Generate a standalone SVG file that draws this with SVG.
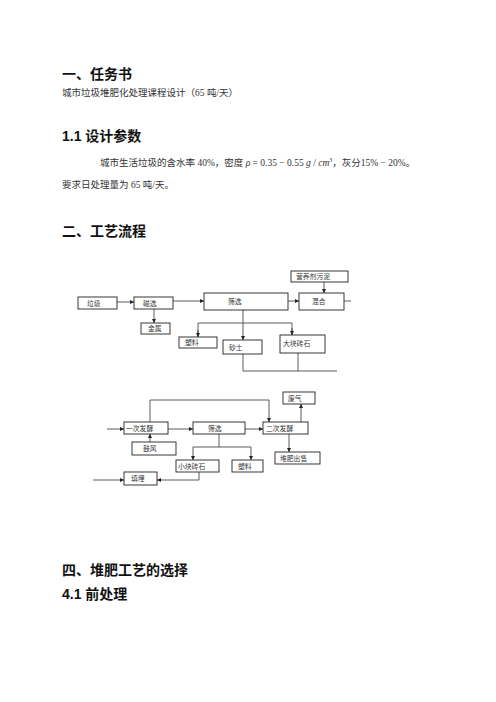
<svg xmlns="http://www.w3.org/2000/svg" width="496" height="702" viewBox="0 0 496 702">
<style>
.h{font-family:"Liberation Sans","Noto Sans CJK SC",sans-serif;font-weight:bold;font-size:14px;fill:#111}
.b{font-family:"Liberation Serif","Noto Sans CJK SC",serif;font-size:9.5px;fill:#333}
.box{fill:#fff;stroke:#222;stroke-width:0.9}
.t{font-family:"Noto Sans CJK SC",sans-serif;font-size:6.8px;fill:#333}
.c{fill:none;stroke:#333;stroke-width:0.8}
.g{fill:none;stroke:#999;stroke-width:1.6}
</style>
<defs>
<marker id="a" viewBox="0 0 6 6" refX="6" refY="3" markerWidth="4" markerHeight="4" orient="auto" markerUnits="userSpaceOnUse"><path d="M0,0L6,3L0,6z" fill="#222"/></marker>
</defs>
<rect width="496" height="702" fill="#fff"/>
<text class="h" x="62" y="79">一、任务书</text>
<text class="b" x="62" y="96">城市垃圾堆肥化处理课程设计（65 吨/天）</text>
<text class="h" x="62" y="141">1.1 设计参数</text>
<text class="b" x="100" y="166">城市生活垃圾的含水率 40%，密度 <tspan font-style="italic">ρ</tspan> = 0.35 − 0.55 <tspan font-style="italic">g</tspan> / <tspan font-style="italic">cm</tspan><tspan font-size="6" dy="-4">3</tspan><tspan dy="4">，灰分15% − 20%。</tspan></text>
<text class="b" x="62" y="188">要求日处理量为 65 吨/天。</text>
<text class="h" x="62" y="236">二、工艺流程</text>
<text class="h" x="62" y="575">四、堆肥工艺的选择</text>
<text class="h" x="62" y="599">4.1 前处理</text>

<g id="connectors">
<line class="c" x1="324" y1="282" x2="324" y2="293" marker-end="url(#a)"/>
<line class="g" x1="117" y1="302" x2="134" y2="302" marker-end="url(#a)"/>
<line class="c" x1="154" y1="309" x2="154" y2="323" marker-end="url(#a)"/>
<line class="g" x1="173" y1="301" x2="204" y2="301" marker-end="url(#a)"/>
<line class="g" x1="288" y1="301" x2="299" y2="301" marker-end="url(#a)"/>
<line class="g" x1="344" y1="301" x2="351" y2="301"/>
<line class="c" x1="243" y1="310" x2="243" y2="340" marker-end="url(#a)"/>
<path class="c" d="M198,337V323H292V335" />
<line class="c" x1="198" y1="330" x2="198" y2="337" marker-end="url(#a)"/>
<line class="c" x1="292" y1="328" x2="292" y2="335" marker-end="url(#a)"/>
<path class="c" d="M243,354V371M298,353V371M243,371H337"/>

<path class="c" d="M150,422V400H269V422" marker-end="url(#a)"/>
<line class="c" x1="301" y1="422" x2="301" y2="404" marker-end="url(#a)"/>
<line class="g" x1="107" y1="429" x2="124" y2="429" marker-end="url(#a)"/>
<line class="g" x1="168" y1="429" x2="193" y2="429" marker-end="url(#a)"/>
<line class="g" x1="245" y1="429" x2="263" y2="429" marker-end="url(#a)"/>
<line class="c" x1="150" y1="442" x2="150" y2="434" marker-end="url(#a)"/>
<path class="c" d="M219,434V447M193,447H251"/>
<line class="c" x1="193" y1="447" x2="193" y2="460" marker-end="url(#a)"/>
<line class="c" x1="251" y1="447" x2="251" y2="460" marker-end="url(#a)"/>
<line class="c" x1="289" y1="434" x2="289" y2="452" marker-end="url(#a)"/>
<line class="c" x1="93" y1="480" x2="124" y2="480" marker-end="url(#a)"/>
<path class="c" d="M199,472V480H157" marker-end="url(#a)"/>
</g>

<g id="n-yyj"><rect class="box" x="291" y="271" width="57" height="11"/><text class="t" x="296" y="279">营养剂污泥</text></g>
<g id="n-lj"><rect class="box" x="78" y="297" width="39" height="12"/><text class="t" x="87" y="305.5">垃圾</text></g>
<g id="n-cx"><rect class="box" x="134" y="297" width="39" height="12"/><text class="t" x="143" y="305.5">磁选</text></g>
<g id="n-js"><rect class="box" x="141" y="323" width="29" height="11"/><text class="t" x="148" y="331">金属</text></g>
<g id="n-sx1"><rect class="box" x="204" y="293" width="84" height="17"/><text class="t" x="228" y="304">筛选</text></g>
<g id="n-hh"><rect class="box" x="299" y="293" width="45" height="17"/><text class="t" x="312" y="304">混合</text></g>
<g id="n-sl1"><rect class="box" x="179" y="337" width="38" height="11"/><text class="t" x="185" y="345">塑料</text></g>
<g id="n-st"><rect class="box" x="223" y="340" width="39" height="14"/><text class="t" x="229" y="350">砂土</text></g>
<g id="n-dk"><rect class="box" x="280" y="335" width="45" height="18"/><text class="t" x="283" y="346">大块砖石</text></g>

<g id="n-fq"><rect class="box" x="283" y="392" width="32" height="12"/><text class="t" x="288" y="400.5">废气</text></g>
<g id="n-yc"><rect class="box" x="124" y="422" width="44" height="12"/><text class="t" x="126" y="430.5">一次发酵</text></g>
<g id="n-sx2"><rect class="box" x="193" y="422" width="52" height="12"/><text class="t" x="208" y="430.5">筛选</text></g>
<g id="n-ec"><rect class="box" x="263" y="422" width="45" height="12"/><text class="t" x="266" y="430.5">二次发酵</text></g>
<g id="n-gf"><rect class="box" x="132" y="442" width="44" height="13"/><text class="t" x="143" y="451">鼓风</text></g>
<g id="n-xk"><rect class="box" x="176" y="460" width="43" height="12"/><text class="t" x="178" y="468.5">小块砖石</text></g>
<g id="n-sl2"><rect class="box" x="232" y="460" width="31" height="12"/><text class="t" x="238" y="468.5">塑料</text></g>
<g id="n-df"><rect class="box" x="275" y="452" width="45" height="12"/><text class="t" x="280" y="460.5">堆肥出售</text></g>
<g id="n-tm"><rect class="box" x="124" y="472" width="33" height="13"/><text class="t" x="131" y="481">填埋</text></g>
</svg>
